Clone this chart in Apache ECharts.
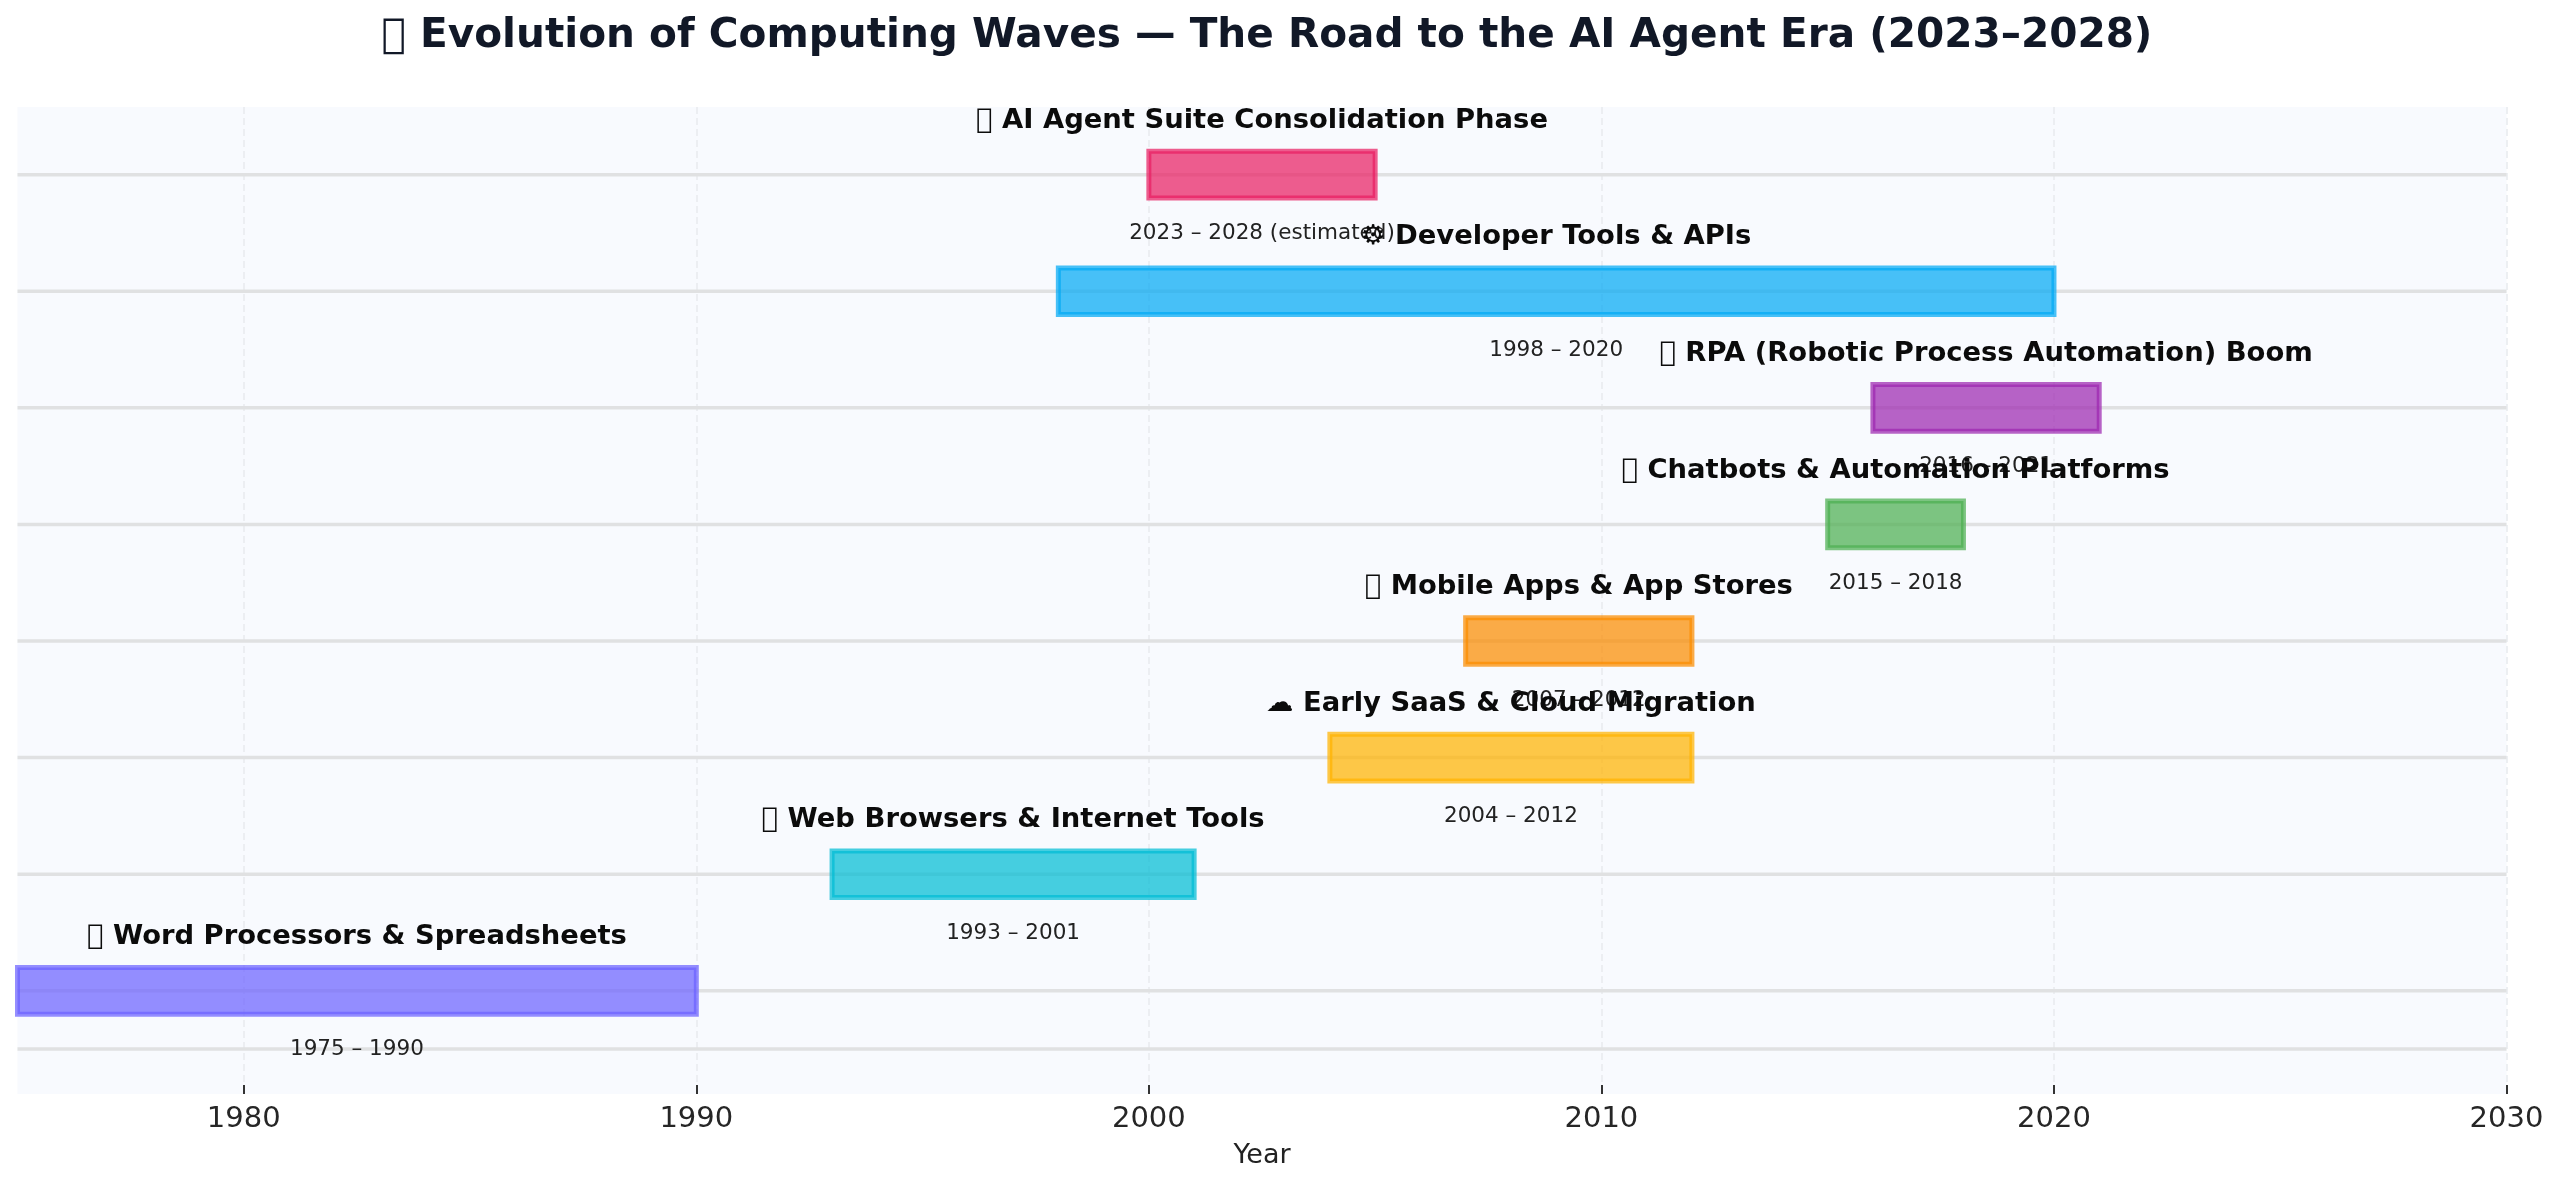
<!DOCTYPE html>
<html>
<head>
<meta charset="utf-8">
<title>Evolution of Computing Waves</title>
<script src="https://cdn.jsdelivr.net/npm/echarts@6/dist/echarts.min.js"></script>
<style>
  html, body { margin: 0; padding: 0; background: #fff; }
  #chart { width: 2560px; height: 1186px; }
</style>
</head>
<body>
<div id="chart"></div>
<script>
  // the reference has missing glyph boxes in front of most names
  const box = '\u{10FFFD}'

  // rows go bottom to top, row index is the y value
  const waves = [
    box + ' Word Processors & Spreadsheets',
    box + ' Web Browsers & Internet Tools',
    '☁ Early SaaS & Cloud Migration',
    box + ' Mobile Apps & App Stores',
    box + ' Chatbots & Automation Platforms',
    box + ' RPA (Robotic Process Automation) Boom',
    '⚙ Developer Tools & APIs',
    box + ' AI Agent Suite Consolidation Phase'
  ]
  const startYears = [1975, 1993, 2004, 2007, 2015, 2016, 1998, 2000]
  const endYears = [1990, 2001, 2012, 2012, 2018, 2021, 2020, 2005]
  const periods = [
    '1975 – 1990',
    '1993 – 2001',
    '2004 – 2012',
    '2007 – 2012',
    '2015 – 2018',
    '2016 – 2021',
    '1998 – 2020',
    '2023 – 2028 (estimated)'
  ]
  const rowLines = [-0.5, 0, 1, 2, 3, 4, 5, 6, 7]
  const xTicks = [1980, 1990, 2000, 2010, 2020, 2030]

  const barColors = ['#6C63FF', '#00BCD4', '#FFB300', '#FB8C00', '#4CAF50', '#9C27B0', '#03A9F4', '#E91E63']
  const fontFamily = '"DejaVu Sans", sans-serif'
  const xMin = 1975
  const xMax = 2030

  const myChart = echarts.init(document.getElementById('chart'), null, { renderer: 'canvas' })

  const barData = waves.map((name, i) => [startYears[i], endYears[i], i])
  const midData = waves.map((name, i) => [(startYears[i] + endYears[i]) / 2, i])

  const option = {
    animation: false,
    backgroundColor: '#ffffff',
    title: {
      text: box + ' Evolution of Computing Waves — The Road to the AI Agent Era (2023–2028)',
      left: 1262,
      top: 11,
      textAlign: 'center',
      textStyle: { fontFamily, fontSize: 40.6, fontWeight: 'bold', color: '#111827' }
    },
    grid: {
      left: 17.5,
      right: 53.5,
      top: 107,
      bottom: 92,
      show: true,
      backgroundColor: '#F8FAFE',
      borderWidth: 0
    },
    xAxis: {
      type: 'value',
      min: xMin,
      max: xMax,
      interval: 5,
      name: 'Year',
      nameLocation: 'middle',
      nameGap: 48,
      nameTextStyle: { fontFamily, fontSize: 27, color: '#222222' },
      axisLine: { show: false, onZero: false },
      axisTick: { show: true, inside: true, length: 9, customValues: xTicks, lineStyle: { color: '#333333', width: 2 } },
      axisLabel: {
        fontFamily,
        fontSize: 29,
        color: '#262626',
        margin: 11,
        customValues: xTicks,
        formatter: (v) => String(v)
      },
      splitLine: { show: true, lineStyle: { color: '#E8EAEE', width: 1.5, type: [7, 4] } }
    },
    yAxis: {
      type: 'value',
      min: -0.885,
      max: 7.58,
      show: false,
      splitLine: { show: false }
    },
    series: [
      {
        // horizontal row lines, they show through the bars
        type: 'custom',
        z: 1,
        silent: true,
        data: rowLines.map((v) => [v]),
        encode: { y: 0 },
        renderItem(params, api) {
          const a = api.coord([xMin, api.value(0)])
          const b = api.coord([xMax, api.value(0)])
          return {
            type: 'line',
            shape: { x1: a[0], y1: a[1], x2: b[0], y2: b[1] },
            style: { stroke: '#E0E1E2', lineWidth: 3.5 }
          }
        }
      },
      {
        type: 'custom',
        z: 2,
        silent: true,
        data: barData,
        encode: { x: [0, 1], y: 2 },
        renderItem(params, api) {
          const top = api.coord([api.value(0), api.value(2) + 0.2])
          const bottom = api.coord([api.value(1), api.value(2) - 0.2])
          const color = barColors[params.dataIndex]
          return {
            type: 'rect',
            shape: { x: top[0], y: top[1], width: bottom[0] - top[0], height: bottom[1] - top[1] },
            style: {
              fill: echarts.color.modifyAlpha(color, 0.72),
              stroke: echarts.color.modifyAlpha(color, 0.72),
              lineWidth: 5
            }
          }
        }
      },
      {
        // period text under each bar
        type: 'scatter',
        z: 3,
        silent: true,
        symbolSize: 1,
        itemStyle: { color: 'transparent', opacity: 1 },
        data: midData,
        label: {
          show: true,
          position: 'bottom',
          distance: 47.5,
          fontFamily,
          fontSize: 21.5,
          color: '#222222',
          formatter: (p) => periods[p.dataIndex]
        }
      },
      {
        // wave names above each bar
        type: 'scatter',
        z: 4,
        silent: true,
        symbolSize: 1,
        itemStyle: { color: 'transparent', opacity: 1 },
        data: midData,
        label: {
          show: true,
          position: 'top',
          distance: 40,
          fontFamily,
          fontSize: 27.4,
          fontWeight: 'bold',
          color: '#0B0B0B',
          formatter: (p) => waves[p.dataIndex]
        }
      }
    ]
  }

  myChart.setOption(option)
</script>
</body>
</html>
